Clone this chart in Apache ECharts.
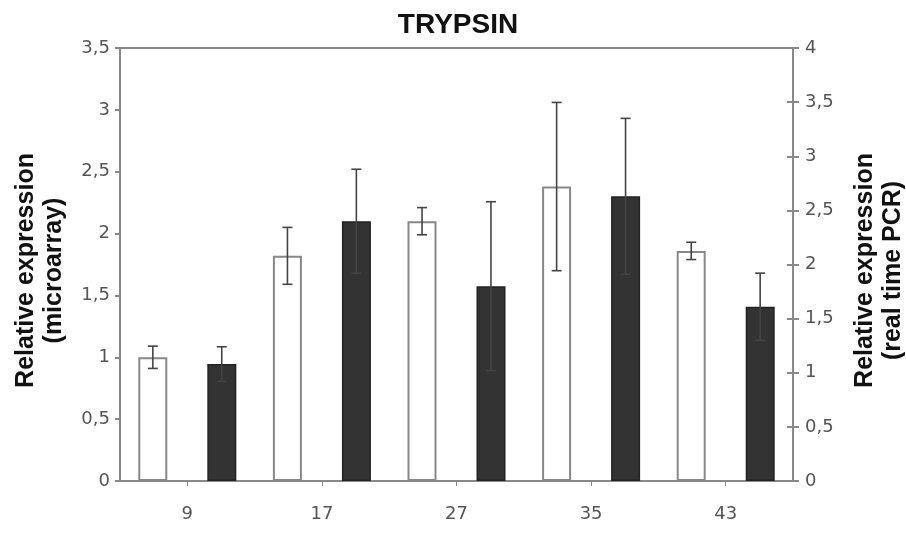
<!DOCTYPE html>
<html><head><meta charset="utf-8">
<script src="https://cdn.jsdelivr.net/npm/echarts@6/dist/echarts.min.js"></script>
<style>html,body{margin:0;padding:0;background:#fff;overflow:hidden}#c{width:906px;height:533px}</style>
</head><body><div id="c"></div>
<script>
const categories = ['9', '17', '27', '35', '43'];
const microarray = [1.0, 1.82, 2.1, 2.38, 1.86];
const microarrayErr = [0.09, 0.23, 0.11, 0.68, 0.07];
const pcr = [1.08, 2.4, 1.8, 2.63, 1.61];
const pcrErr = [0.16, 0.48, 0.78, 0.72, 0.31];
const leftTicks = [0, 0.5, 1, 1.5, 2, 2.5, 3, 3.5];
const rightTicks = [0, 0.5, 1, 1.5, 2, 2.5, 3, 3.5, 4];

const chart = echarts.init(document.getElementById('c'), null, { width: 906, height: 533 });
const fmt = v => String(v).replace('.', ',');
const OFF = 0.256;
function errItem(vals, errs, sign) {
  return function (params, api) {
    const i = api.value(0);
    const v = vals[i], e = errs[i];
    const band = api.size([1, 0])[0];
    const c = api.coord([i, v]);
    const x = c[0] + sign * band * OFF;
    const top = api.coord([i, v + e])[1];
    const bot = api.coord([i, v - e])[1];
    const w = 5;
    const st = { stroke: '#444', lineWidth: 1.6 };
    return { type: 'group', children: [
      { type: 'line', shape: { x1: x, y1: top, x2: x, y2: bot }, style: st },
      { type: 'line', shape: { x1: x - w, y1: top, x2: x + w, y2: top }, style: st },
      { type: 'line', shape: { x1: x - w, y1: bot, x2: x + w, y2: bot }, style: st }
    ]};
  };
}
const axisLine = { show: true, lineStyle: { color: '#888', width: 2 } };
const tickLabel = { color: '#555', fontSize: 18, fontFamily: 'DejaVu Sans' };
const nameStyle = { color: '#111', fontSize: 25, fontWeight: 'bold', fontFamily: 'Liberation Sans', lineHeight: 28, padding: [0, 12, 0, 0] };
const rMax = rightTicks[rightTicks.length - 1];
chart.setOption({
  animation: false,
  title: { text: 'TRYPSIN', left: 453, top: 6, textAlign: 'center',
    textStyle: { fontSize: 28, fontWeight: 'bold', color: '#111', fontFamily: 'Liberation Sans' } },
  grid: { left: 120, right: 113, top: 48, bottom: 52, containLabel: false, outerBoundsMode: 'none',
    show: true, borderColor: '#888', borderWidth: 2, backgroundColor: 'transparent' },
  xAxis: { type: 'category', data: categories, axisLine: axisLine,
    axisTick: { show: true, alignWithLabel: true, length: 5, lineStyle: { color: '#888' } },
    axisLabel: Object.assign({ margin: 24 }, tickLabel), splitLine: { show: false } },
  yAxis: [
    { type: 'value', min: leftTicks[0], max: leftTicks[leftTicks.length - 1], interval: 0.5, position: 'left', axisLine: axisLine,
      axisTick: { show: true, length: 5, lineStyle: { color: '#888', width: 2 } },
      axisLabel: Object.assign({ margin: 10, formatter: fmt }, tickLabel), splitLine: { show: false },
      name: 'Relative expression\n(microarray)', nameLocation: 'middle', nameRotate: 90, nameGap: 52, nameTextStyle: nameStyle },
    { type: 'value', min: rightTicks[0], max: rMax, interval: 0.5, position: 'right', axisLine: axisLine,
      axisTick: { show: true, length: 6, lineStyle: { color: '#888', width: 2 } },
      axisLabel: Object.assign({ margin: 12, formatter: fmt }, tickLabel), splitLine: { show: false },
      name: 'Relative expression\n(real time PCR)', nameLocation: 'middle', nameRotate: 90, nameGap: 58, nameTextStyle: nameStyle },
    { type: 'value', min: rightTicks[0], max: rMax, interval: 0.5, position: 'right', axisLine: { show: false },
      axisTick: { show: true, inside: true, length: 6, lineStyle: { color: '#888', width: 2 } },
      axisLabel: { show: false }, splitLine: { show: false } }
  ],
  series: [
    { type: 'bar', yAxisIndex: 0, data: microarray, barWidth: 29, barGap: '138%',
      itemStyle: { color: '#fff', borderColor: '#888', borderWidth: 2 } },
    { type: 'bar', yAxisIndex: 1, data: pcr, barWidth: 29,
      itemStyle: { color: '#333', borderColor: '#222', borderWidth: 1.5 } },
    { type: 'custom', yAxisIndex: 0, data: categories.map((c, i) => [i]), renderItem: errItem(microarray, microarrayErr, -1), z: 5 },
    { type: 'custom', yAxisIndex: 1, data: categories.map((c, i) => [i]), renderItem: errItem(pcr, pcrErr, 1), z: 5 }
  ]
});
</script></body></html>
